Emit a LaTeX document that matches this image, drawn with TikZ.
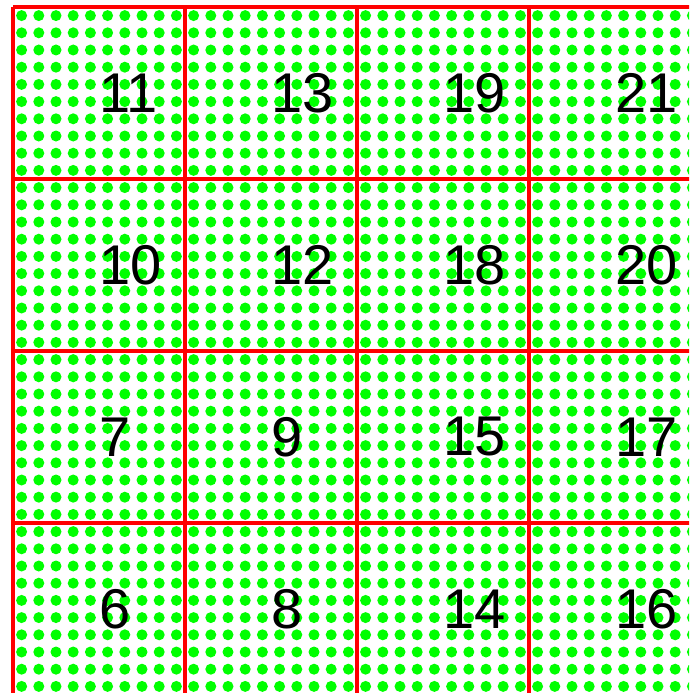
\documentclass[tikz,border=0pt]{standalone}
\usepackage{fontspec}
\setmainfont{Liberation Sans}

\begin{document}
\begin{tikzpicture}[
x=1pt, y=-1pt,
dot/.style={fill=green, draw=none},
gridline/.style={draw=red, line width=3.2pt},
cellnum/.style={anchor=west, inner sep=0pt, text=black, font=\fontsize{56}{56}\selectfont}
]
\useasboundingbox (0,0) rectangle (689,693);
\clip (0,0) rectangle (689,693);

% dot pattern
\foreach \i in {0,...,39}
  \foreach \j in {0,...,39}
    \fill[dot] ({21.6+17.2*\i},{15.6+17.2*\j}) circle[radius=5.5pt];

% cell borders
\foreach \k in {0,...,4} {
  \draw[gridline] ({13+172*\k},7) -- ({13+172*\k},695);
  \draw[gridline] (13,{7+172*\k}) -- (701,{7+172*\k});
}

% cell numbers
\foreach \lbl [count=\n from 0] in {11,13,19,21,10,12,18,20,7,9,15,17,6,8,14,16} {
  \pgfmathtruncatemacro\col{mod(\n,4)}
  \pgfmathtruncatemacro\row{div(\n,4)}
  \node[cellnum] (num\lbl) at ({99+172*\col},{93+172*\row}) {\lbl};
}

\end{tikzpicture}
\end{document}
